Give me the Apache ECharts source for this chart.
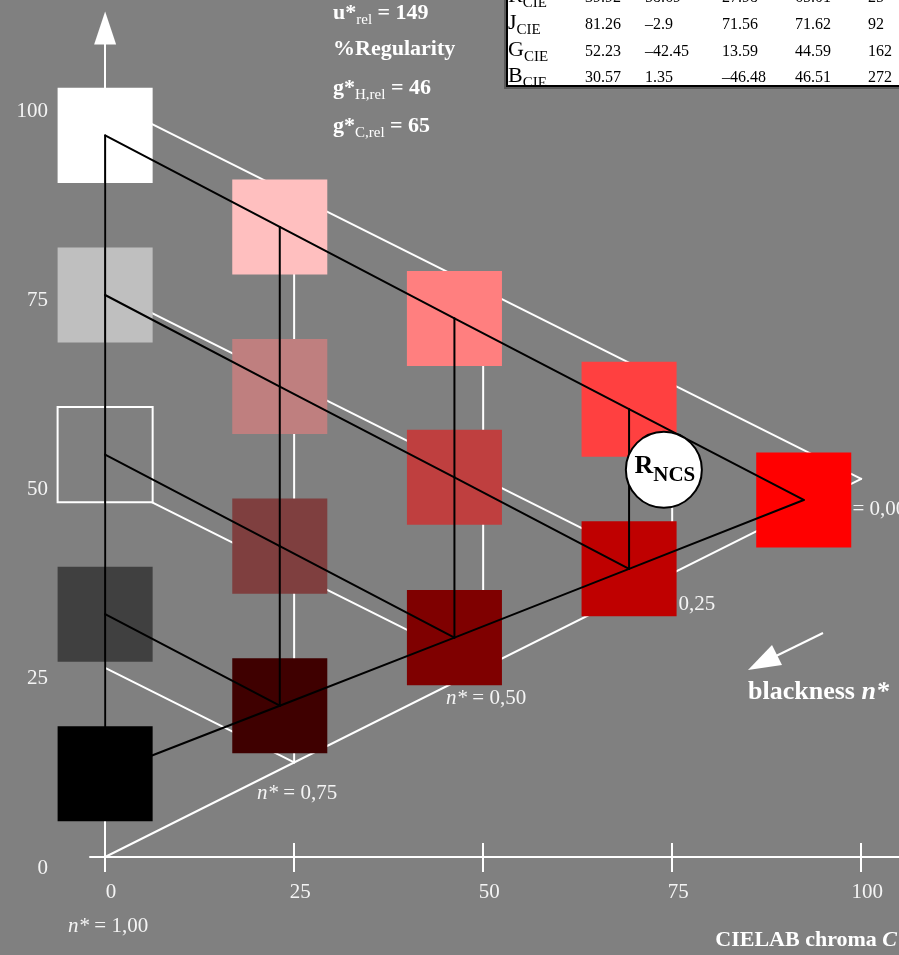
<!DOCTYPE html>
<html>
<head>
<meta charset="utf-8">
<script src="https://cdn.jsdelivr.net/npm/echarts@6/dist/echarts.min.js"></script>
<style>
  html, body { margin: 0; padding: 0; background: #808080; }
  #chart { width: 899px; height: 955px; }
</style>
</head>
<body>
<div id="chart"></div>
<script>
// ---- axis ticks ----
const chromaTicks = [0, 25, 50, 75, 100];
const lightnessTicks = [0, 25, 50, 75, 100];

// ---- colour samples of the hue triangle (columns of equal chroma) ----
const sampleColumn    = [0, 0, 0, 0, 0, 1, 1, 1, 1, 2, 2, 2, 3, 3, 4];
const sampleRow       = [0, 1, 2, 3, 4, 0, 1, 2, 3, 0, 1, 2, 0, 1, 0];
const sampleChroma    = [0, 0, 0, 0, 0, 23.1, 23.1, 23.1, 23.1, 46.2, 46.2, 46.2, 69.3, 69.3, 92.4];
const sampleLightness = [95.4, 74.3, 53.2, 32.1, 11.0, 83.3, 62.2, 41.1, 20.0, 71.2, 50.2, 29.0, 59.2, 38.1, 47.2];
const sampleColors    = ['#ffffff', '#bfbfbf', '#808080', '#404040', '#000000',
                         '#ffbfbf', '#bf7f7f', '#7f3f3f', '#3f0000',
                         '#ff7f7f', '#bf3f3f', '#7f0000',
                         '#ff4040', '#bf0000',
                         '#ff0000'];

// ---- reference triangle: white, black and maximum-chroma corner ----
const triWhite = [0, 100];
const triBlack = [0, 0];
const triApex = [100, 50];
const triStep = 25;

// ---- blackness labels along the lower edge ----
const blacknessChroma = [0, 25, 50, 75, 100];
const blacknessText = ['1,00', '0,75', '0,50', '0,25', '0,00'];

// ---- NCS hue position ----
const ncsPoint = [73.9, 51.2];

// ---- CIELAB data table ----
const tableNames = ['R', 'J', 'G', 'B'];
const tableL = ['39.92', '81.26', '52.23', '30.57'];
const tableA = ['58.69', '\u20132.9', '\u201342.45', '1.35'];
const tableB = ['27.98', '71.56', '13.59', '\u201346.48'];
const tableC = ['65.01', '71.62', '44.59', '46.51'];
const tableH = ['25', '92', '162', '272'];

// ---- header values ----
const headerU = '149';
const headerGH = '46';
const headerGC = '65';

const FONT = '"Liberation Serif", "Times New Roman", Times, serif';
const BG = '#808080';
const TEXT = '#f4f4f4';
const SQUARE = 12.57;   // square side in chart units

// white reference grid segments [c1, l1, c2, l2]
function refGrid() {
  const segs = [];
  segs.push([triWhite[0], triWhite[1], triApex[0], triApex[1]]);
  segs.push([triBlack[0], triBlack[1], triApex[0], triApex[1]]);
  const topSlope = (triApex[1] - triWhite[1]) / (triApex[0] - triWhite[0]);
  const botSlope = (triApex[1] - triBlack[1]) / (triApex[0] - triBlack[0]);
  for (let c = triStep; c < triApex[0]; c += triStep) {
    segs.push([c, triWhite[1] + topSlope * c, c, triBlack[1] + botSlope * c]);
    const ls = triWhite[1] - c;
    const ce = (ls - triBlack[1]) / (botSlope - topSlope);
    segs.push([0, ls, ce, triBlack[1] + botSlope * ce]);
  }
  return segs;
}

// black lines joining neighbouring samples
function sampleGrid() {
  const idx = (col, row) => sampleColumn.findIndex((c, i) => c === col && sampleRow[i] === row);
  const segs = [];
  const add = (a, b) => {
    if (a < 0 || b < 0) return;
    segs.push([sampleChroma[a], sampleLightness[a], sampleChroma[b], sampleLightness[b]]);
  };
  for (let col = 0; col < 5; col++) {
    for (let row = 0; row < 5; row++) {
      add(idx(col, row), idx(col, row + 1));       // same chroma column
      add(idx(col, row), idx(col + 1, row));       // same row (towards the full colour)
    }
  }
  for (let col = 0; col < 4; col++) add(idx(col, 4 - col), idx(col + 1, 3 - col)); // black to full colour
  return segs;
}

function segmentRenderer(color, width) {
  return function (params, api) {
    const p1 = api.coord([api.value(0), api.value(1)]);
    const p2 = api.coord([api.value(2), api.value(3)]);
    return {
      type: 'line',
      shape: { x1: p1[0], y1: p1[1], x2: p2[0], y2: p2[1] },
      style: { stroke: color, lineWidth: width, lineCap: 'round' }
    };
  };
}

const sampleData = sampleChroma.map((c, i) => [c, sampleLightness[i], i]);
const blacknessData = blacknessChroma.map((c, i) => [c, triBlack[1] + (triApex[1] - triBlack[1]) * c / triApex[0], i]);

const lineStyle = { color: '#ffffff', width: 2 };

const chart = echarts.init(document.getElementById('chart'), null, { renderer: 'canvas' });

const option = {
  backgroundColor: BG,
  animation: false,
  grid: { left: 90, right: 0, top: 28, bottom: 98 },
  xAxis: [
    {
      type: 'value', min: -2, max: 105, position: 'bottom',
      splitLine: { show: false },
      axisLine: { lineStyle: lineStyle },
      axisTick: { customValues: chromaTicks, length: 15, lineStyle: lineStyle },
      axisLabel: {
        customValues: chromaTicks, margin: 25, color: TEXT,
        fontSize: 21, fontFamily: FONT, padding: [0, 0, 0, 12]
      }
    },
    {
      type: 'value', min: -2, max: 105, position: 'bottom',
      splitLine: { show: false },
      axisLine: { show: false },
      axisTick: { customValues: chromaTicks, inside: true, length: 14, lineStyle: lineStyle },
      axisLabel: { show: false }
    }
  ],
  yAxis: {
    type: 'value', min: 0, max: 109.6,
    splitLine: { show: false },
    axisLine: { onZero: true, symbol: ['none', 'triangle'], symbolSize: [22, 33], lineStyle: lineStyle },
    axisTick: { show: false },
    axisLabel: {
      customValues: lightnessTicks, margin: 42, color: TEXT,
      fontSize: 21, fontFamily: FONT, verticalAlign: 'top', lineHeight: 22
    }
  },
  series: [
    {
      name: 'reference grid', type: 'custom', z: 3,
      data: refGrid(),
      encode: { x: [0, 2], y: [1, 3] },
      renderItem: segmentRenderer('#ffffff', 2)
    },
    {
      name: 'blackness labels', type: 'custom', z: 4,
      data: blacknessData,
      renderItem: function (params, api) {
        const p = api.coord([api.value(0), api.value(1)]);
        const i = api.value(2);
        const dy = i === 0 ? 69 : 31;
        return {
          type: 'text',
          style: {
            text: '{i|n*} = ' + blacknessText[i],
            x: p[0] + (i === 4 ? 5 : 3), y: p[1] + dy,
            align: 'center', verticalAlign: 'middle',
            textAlign: 'center', textVerticalAlign: 'middle',
            fill: TEXT, fontSize: 21, fontFamily: FONT,
            rich: { i: { fontStyle: 'italic', fontSize: 21, fontFamily: FONT, fill: TEXT } }
          }
        };
      }
    },
    {
      name: 'samples', type: 'custom', z: 5,
      data: sampleData,
      renderItem: function (params, api) {
        const p = api.coord([api.value(0), api.value(1)]);
        const s = api.size([SQUARE, SQUARE]);
        const color = sampleColors[api.value(2)];
        const neutral = color.toLowerCase() === BG;
        return {
          type: 'rect',
          shape: { x: p[0] - s[0] / 2, y: p[1] - s[1] / 2, width: s[0], height: s[1] },
          style: { fill: color, stroke: neutral ? '#ffffff' : null, lineWidth: neutral ? 2 : 0 }
        };
      }
    },
    {
      name: 'sample grid', type: 'custom', z: 6,
      data: sampleGrid(),
      encode: { x: [0, 2], y: [1, 3] },
      renderItem: segmentRenderer('#000000', 2)
    },
    {
      name: 'NCS hue', type: 'custom', z: 7,
      data: [ncsPoint],
      renderItem: function (params, api) {
        const p = api.coord([api.value(0), api.value(1)]);
        return {
          type: 'group',
          children: [
            { type: 'circle', shape: { cx: p[0], cy: p[1], r: 38 },
              style: { fill: '#ffffff', stroke: '#000000', lineWidth: 2 } },
            { type: 'text',
              style: {
                text: '{m|R}{s|NCS}', x: p[0] + 1, y: p[1] - 3,
                align: 'center', verticalAlign: 'middle',
                textAlign: 'center', textVerticalAlign: 'middle',
                fill: '#000',
                rich: {
                  m: { fontSize: 26, fontWeight: 'bold', fontFamily: FONT, fill: '#000', lineHeight: 39 },
                  s: { fontSize: 21, fontWeight: 'bold', fontFamily: FONT, fill: '#000', lineHeight: 21, verticalAlign: 'bottom' }
                }
              } }
          ]
        };
      }
    }
  ],
  graphic: []
};

// header with subscripts
function subText(parts, x, y, size, subSize, color, bold) {
  return {
    type: 'text', x: x, y: y,
    style: {
      text: parts, x: 0, y: 0,
      align: 'left', verticalAlign: 'middle',
      textAlign: 'left', textVerticalAlign: 'middle',
      fill: color,
      rich: {
        m: { fontSize: size, fontWeight: bold ? 'bold' : 'normal', fontFamily: FONT, fill: color, lineHeight: size + 7 },
        s: { fontSize: subSize, fontWeight: 'normal', fontFamily: FONT, fill: color, lineHeight: subSize, verticalAlign: 'bottom' }
      }
    }
  };
}

const graphics = [];
graphics.push(subText('{m|u*}{s|rel}{m| = ' + headerU + '}', 333, 13, 22, 15, '#ffffff', true));
graphics.push(subText('{m|%Regularity}', 333, 49, 22, 15, '#ffffff', true));
graphics.push(subText('{m|g*}{s|H,rel}{m| = ' + headerGH + '}', 333, 88, 22, 15, '#ffffff', true));
graphics.push(subText('{m|g*}{s|C,rel}{m| = ' + headerGC + '}', 333, 126, 22, 15, '#ffffff', true));

// data table
const tableChildren = [
  { type: 'rect', shape: { x: 504, y: -10, width: 400, height: 99 }, style: { fill: '#5a5a5a' } },
  { type: 'rect', shape: { x: 507, y: -10, width: 400, height: 96 }, style: { fill: '#ffffff', stroke: '#000000', lineWidth: 2 } }
];
const colX = [585, 645, 722, 795, 868];
const rowY = [-2, 25, 52, 78];
tableNames.forEach((name, r) => {
  tableChildren.push({
    type: 'text',
    style: {
      text: '{m|' + name + '}{s|CIE}', x: 508, y: rowY[r] - 2,
      align: 'left', verticalAlign: 'middle', textAlign: 'left', textVerticalAlign: 'middle',
      fill: '#000',
      rich: {
        m: { fontSize: 22, fontFamily: FONT, fill: '#000', lineHeight: 30 },
        s: { fontSize: 15, fontFamily: FONT, fill: '#000', lineHeight: 15, verticalAlign: 'bottom' }
      }
    }
  });
  [tableL, tableA, tableB, tableC, tableH].forEach((col, c) => {
    tableChildren.push({
      type: 'text',
      style: {
        text: col[r], x: colX[c], y: rowY[r],
        align: 'left', verticalAlign: 'middle', textAlign: 'left', textVerticalAlign: 'middle',
        fill: '#000', fontSize: 16, fontFamily: FONT
      }
    });
  });
});
graphics.push({ type: 'group', x: 0, y: 0, children: tableChildren });

// blackness direction arrow
graphics.push({
  type: 'group', x: 0, y: 0,
  children: [
    { type: 'line', shape: { x1: 823, y1: 633, x2: 774, y2: 657 }, style: { stroke: '#ffffff', lineWidth: 2 } },
    { type: 'polygon', shape: { points: [[748, 670], [772, 645], [782, 665]] }, style: { fill: '#ffffff' } }
  ]
});
graphics.push({
  type: 'text', x: 748, y: 692,
  style: {
    text: '{m|blackness }{i|n*}', x: 0, y: 0,
    align: 'left', verticalAlign: 'middle', textAlign: 'left', textVerticalAlign: 'middle',
    fill: '#ffffff',
    rich: {
      m: { fontSize: 26, fontWeight: 'bold', fontFamily: FONT, fill: '#ffffff' },
      i: { fontSize: 26, fontWeight: 'bold', fontStyle: 'italic', fontFamily: FONT, fill: '#ffffff' }
    }
  }
});
graphics.push({
  type: 'text', x: 897, y: 940,
  style: {
    text: '{m|CIELAB chroma }{i|C}', x: 0, y: 0,
    align: 'right', verticalAlign: 'middle', textAlign: 'right', textVerticalAlign: 'middle',
    fill: '#ffffff',
    rich: {
      m: { fontSize: 22, fontWeight: 'bold', fontFamily: FONT, fill: '#ffffff' },
      i: { fontSize: 22, fontWeight: 'bold', fontStyle: 'italic', fontFamily: FONT, fill: '#ffffff' }
    }
  }
});

option.graphic = graphics;
chart.setOption(option);
</script>
</body>
</html>
